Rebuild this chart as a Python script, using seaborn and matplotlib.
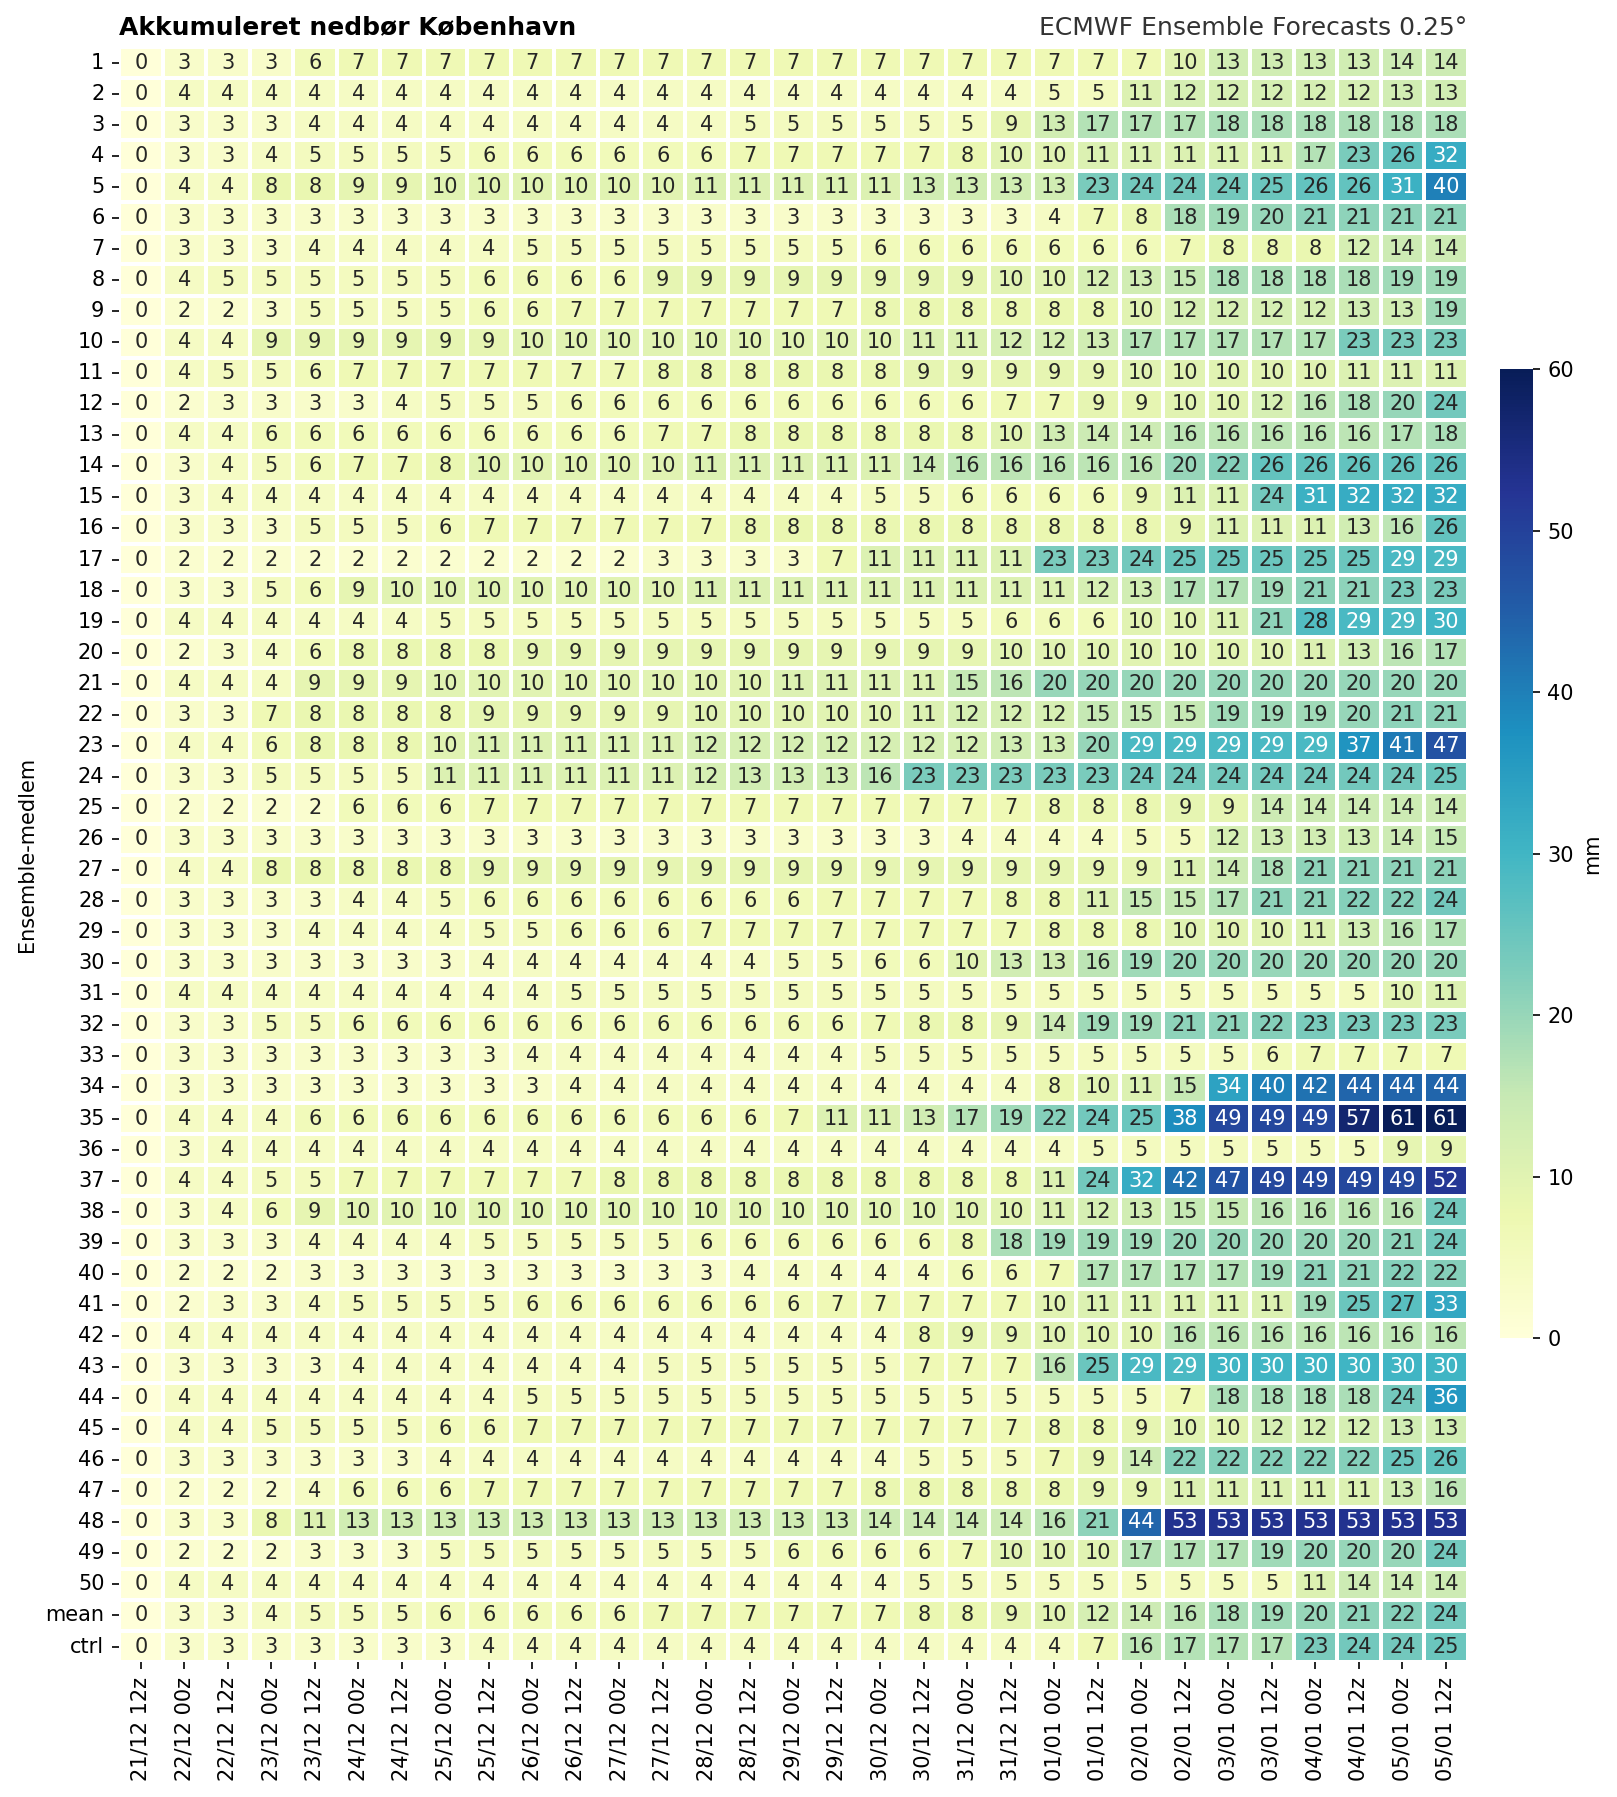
import numpy as np
import pandas as pd
import matplotlib
matplotlib.use("Agg")
import matplotlib.pyplot as plt
import seaborn as sns

times = ["21/12 12z", "22/12 00z", "22/12 12z", "23/12 00z", "23/12 12z", "24/12 00z",
         "24/12 12z", "25/12 00z", "25/12 12z", "26/12 00z", "26/12 12z", "27/12 00z",
         "27/12 12z", "28/12 00z", "28/12 12z", "29/12 00z", "29/12 12z", "30/12 00z",
         "30/12 12z", "31/12 00z", "31/12 12z", "01/01 00z", "01/01 12z", "02/01 00z",
         "02/01 12z", "03/01 00z", "03/01 12z", "04/01 00z", "04/01 12z", "05/01 00z",
         "05/01 12z"]

members = [str(i) for i in range(1, 51)] + ["mean", "ctrl"]

rows = [
    [0,3,3,3,6,7,7,7,7,7,7,7,7,7,7,7, 7,7,7,7,7,7,7,7,10,13,13,13,13,14,14],
    [0,4,4,4,4,4,4,4,4,4,4,4,4,4,4,4, 4,4,4,4,4,5,5,11,12,12,12,12,12,13,13],
    [0,3,3,3,4,4,4,4,4,4,4,4,4,4,5,5, 5,5,5,5,9,13,17,17,17,18,18,18,18,18,18],
    [0,3,3,4,5,5,5,5,6,6,6,6,6,6,7,7, 7,7,7,8,10,10,11,11,11,11,11,17,23,26,32],
    [0,4,4,8,8,9,9,10,10,10,10,10,10,11,11,11, 11,11,13,13,13,13,23,24,24,24,25,26,26,31,40],
    [0,3,3,3,3,3,3,3,3,3,3,3,3,3,3,3, 3,3,3,3,3,4,7,8,18,19,20,21,21,21,21],
    [0,3,3,3,4,4,4,4,4,5,5,5,5,5,5,5, 5,6,6,6,6,6,6,6,7,8,8,8,12,14,14],
    [0,4,5,5,5,5,5,5,6,6,6,6,9,9,9,9, 9,9,9,9,10,10,12,13,15,18,18,18,18,19,19],
    [0,2,2,3,5,5,5,5,6,6,7,7,7,7,7,7, 7,8,8,8,8,8,8,10,12,12,12,12,13,13,19],
    [0,4,4,9,9,9,9,9,9,10,10,10,10,10,10,10, 10,10,11,11,12,12,13,17,17,17,17,17,23,23,23],
    [0,4,5,5,6,7,7,7,7,7,7,7,8,8,8,8, 8,8,9,9,9,9,9,10,10,10,10,10,11,11,11],
    [0,2,3,3,3,3,4,5,5,5,6,6,6,6,6,6, 6,6,6,6,7,7,9,9,10,10,12,16,18,20,24],
    [0,4,4,6,6,6,6,6,6,6,6,6,7,7,8,8, 8,8,8,8,10,13,14,14,16,16,16,16,16,17,18],
    [0,3,4,5,6,7,7,8,10,10,10,10,10,11,11,11, 11,11,14,16,16,16,16,16,20,22,26,26,26,26,26],
    [0,3,4,4,4,4,4,4,4,4,4,4,4,4,4,4, 4,5,5,6,6,6,6,9,11,11,24,31,32,32,32],
    [0,3,3,3,5,5,5,6,7,7,7,7,7,7,8,8, 8,8,8,8,8,8,8,8,9,11,11,11,13,16,26],
    [0,2,2,2,2,2,2,2,2,2,2,2,3,3,3,3, 7,11,11,11,11,23,23,24,25,25,25,25,25,29,29],
    [0,3,3,5,6,9,10,10,10,10,10,10,10,11,11,11, 11,11,11,11,11,11,12,13,17,17,19,21,21,23,23],
    [0,4,4,4,4,4,4,5,5,5,5,5,5,5,5,5, 5,5,5,5,6,6,6,10,10,11,21,28,29,29,30],
    [0,2,3,4,6,8,8,8,8,9,9,9,9,9,9,9, 9,9,9,9,10,10,10,10,10,10,10,11,13,16,17],
    [0,4,4,4,9,9,9,10,10,10,10,10,10,10,10,11, 11,11,11,15,16,20,20,20,20,20,20,20,20,20,20],
    [0,3,3,7,8,8,8,8,9,9,9,9,9,10,10,10, 10,10,11,12,12,12,15,15,15,19,19,19,20,21,21],
    [0,4,4,6,8,8,8,10,11,11,11,11,11,12,12,12, 12,12,12,12,13,13,20,29,29,29,29,29,37,41,47],
    [0,3,3,5,5,5,5,11,11,11,11,11,11,12,13,13, 13,16,23,23,23,23,23,24,24,24,24,24,24,24,25],
    [0,2,2,2,2,6,6,6,7,7,7,7,7,7,7,7, 7,7,7,7,7,8,8,8,9,9,14,14,14,14,14],
    [0,3,3,3,3,3,3,3,3,3,3,3,3,3,3,3, 3,3,3,4,4,4,4,5,5,12,13,13,13,14,15],
    [0,4,4,8,8,8,8,8,9,9,9,9,9,9,9,9, 9,9,9,9,9,9,9,9,11,14,18,21,21,21,21],
    [0,3,3,3,3,4,4,5,6,6,6,6,6,6,6,6, 7,7,7,7,8,8,11,15,15,17,21,21,22,22,24],
    [0,3,3,3,4,4,4,4,5,5,6,6,6,7,7,7, 7,7,7,7,7,8,8,8,10,10,10,11,13,16,17],
    [0,3,3,3,3,3,3,3,4,4,4,4,4,4,4,5, 5,6,6,10,13,13,16,19,20,20,20,20,20,20,20],
    [0,4,4,4,4,4,4,4,4,4,5,5,5,5,5,5, 5,5,5,5,5,5,5,5,5,5,5,5,5,10,11],
    [0,3,3,5,5,6,6,6,6,6,6,6,6,6,6,6, 6,7,8,8,9,14,19,19,21,21,22,23,23,23,23],
    [0,3,3,3,3,3,3,3,3,4,4,4,4,4,4,4, 4,5,5,5,5,5,5,5,5,5,6,7,7,7,7],
    [0,3,3,3,3,3,3,3,3,3,4,4,4,4,4,4, 4,4,4,4,4,8,10,11,15,34,40,42,44,44,44],
    [0,4,4,4,6,6,6,6,6,6,6,6,6,6,6,7, 11,11,13,17,19,22,24,25,38,49,49,49,57,61,61],
    [0,3,4,4,4,4,4,4,4,4,4,4,4,4,4,4, 4,4,4,4,4,4,5,5,5,5,5,5,5,9,9],
    [0,4,4,5,5,7,7,7,7,7,7,8,8,8,8,8, 8,8,8,8,8,11,24,32,42,47,49,49,49,49,52],
    [0,3,4,6,9,10,10,10,10,10,10,10,10,10,10,10, 10,10,10,10,10,11,12,13,15,15,16,16,16,16,24],
    [0,3,3,3,4,4,4,4,5,5,5,5,5,6,6,6, 6,6,6,8,18,19,19,19,20,20,20,20,20,21,24],
    [0,2,2,2,3,3,3,3,3,3,3,3,3,3,4,4, 4,4,4,6,6,7,17,17,17,17,19,21,21,22,22],
    [0,2,3,3,4,5,5,5,5,6,6,6,6,6,6,6, 7,7,7,7,7,10,11,11,11,11,11,19,25,27,33],
    [0,4,4,4,4,4,4,4,4,4,4,4,4,4,4,4, 4,4,8,9,9,10,10,10,16,16,16,16,16,16,16],
    [0,3,3,3,3,4,4,4,4,4,4,4,5,5,5,5, 5,5,7,7,7,16,25,29,29,30,30,30,30,30,30],
    [0,4,4,4,4,4,4,4,4,5,5,5,5,5,5,5, 5,5,5,5,5,5,5,5,7,18,18,18,18,24,36],
    [0,4,4,5,5,5,5,6,6,7,7,7,7,7,7,7, 7,7,7,7,7,8,8,9,10,10,12,12,12,13,13],
    [0,3,3,3,3,3,3,4,4,4,4,4,4,4,4,4, 4,4,5,5,5,7,9,14,22,22,22,22,22,25,26],
    [0,2,2,2,4,6,6,6,7,7,7,7,7,7,7,7, 7,8,8,8,8,8,9,9,11,11,11,11,11,13,16],
    [0,3,3,8,11,13,13,13,13,13,13,13,13,13,13,13, 13,14,14,14,14,16,21,44,53,53,53,53,53,53,53],
    [0,2,2,2,3,3,3,5,5,5,5,5,5,5,5,6, 6,6,6,7,10,10,10,17,17,17,19,20,20,20,24],
    [0,4,4,4,4,4,4,4,4,4,4,4,4,4,4,4, 4,4,5,5,5,5,5,5,5,5,5,11,14,14,14],
]
mean_row = [0,3,3,4,5,5,5,6,6,6,6,6,7,7,7,7, 7,7,8,8,9,10,12,14,16,18,19,20,21,22,24]
ctrl_row = [0,3,3,3,3,3,3,3,4,4,4,4,4,4,4,4, 4,4,4,4,4,4,7,16,17,17,17,23,24,24,25]

df = pd.DataFrame(rows + [mean_row, ctrl_row], index=members, columns=times)

fig = plt.figure(figsize=(1617 / 150, 1797 / 150), dpi=150)
ax = fig.add_axes([0.0736, 0.0751, 0.834, 0.8987])
cax = fig.add_axes([0.9276, 0.2554, 0.0204, 0.539])

sns.heatmap(df, ax=ax, cbar_ax=cax, cmap="YlGnBu", vmin=0, vmax=60,
            annot=True, fmt=".0f", annot_kws={"size": 10},
            linewidths=1, linecolor="white",
            xticklabels=True, yticklabels=True,
            cbar_kws={"label": "mm"})

ax.set_ylabel("Ensemble-medlem", fontsize=10)
ax.set_xlabel("")
ax.tick_params(axis="x", labelrotation=90, labelsize=10)
ax.tick_params(axis="y", labelrotation=0, labelsize=10)
cax.tick_params(labelsize=10)
cax.set_ylabel("mm", fontsize=10)

ax.set_title("Akkumuleret nedbør København", loc="left", fontsize=12, fontweight="bold")
ax.set_title("ECMWF Ensemble Forecasts 0.25°", loc="right", fontsize=12, color="#333333")

fig.savefig("out.png", dpi=150)
